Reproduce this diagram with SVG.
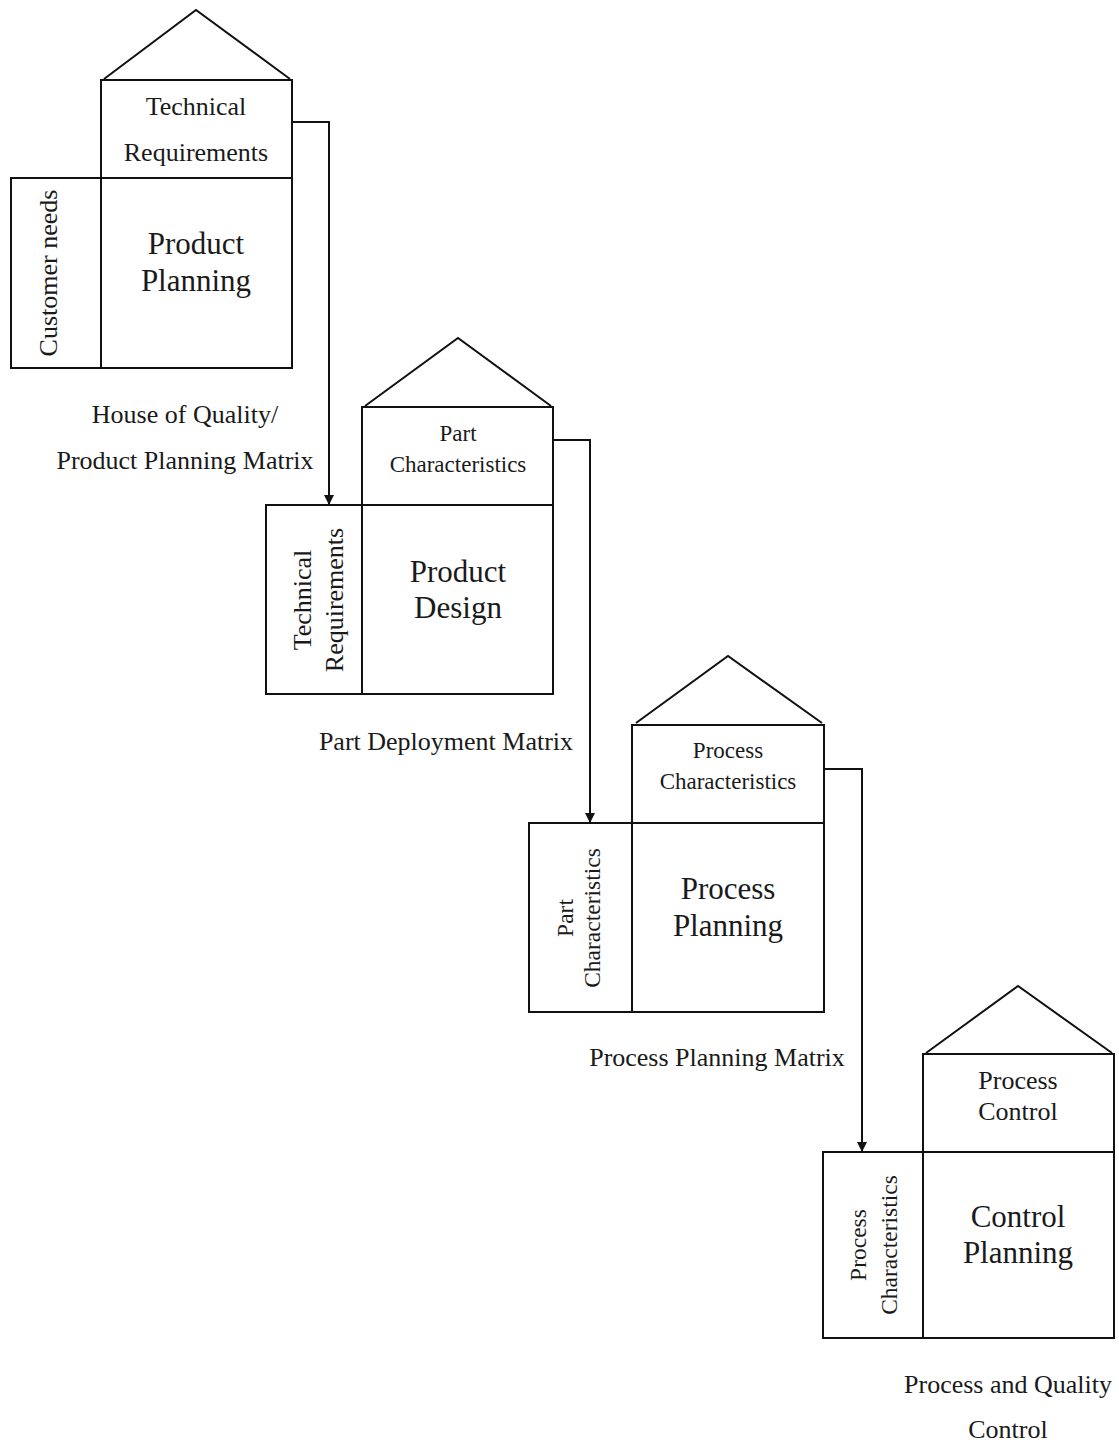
<svg xmlns="http://www.w3.org/2000/svg" width="1119" height="1454" viewBox="0 0 1119 1454">
  <style>
    .box { fill: none; stroke: #111; stroke-width: 2; }
    .roof { fill: none; stroke: #111; stroke-width: 2; stroke-linejoin: miter; }
    .conn { fill: none; stroke: #111; stroke-width: 2; }
    text { font-family: "Liberation Serif", "Times New Roman", serif; fill: #1a1a1a; text-anchor: middle; dominant-baseline: central; }
    .hdr { font-size: 26px; }
    .hdr-s { font-size: 23px; }
    .big { font-size: 31px; }
    .side { font-size: 26px; }
    .side-s { font-size: 23.5px; }
    .cap { font-size: 26px; }
  </style>
  <defs>
    <marker id="arrow" viewBox="0 0 10 10" refX="10" refY="5" markerWidth="6" markerHeight="5" orient="auto" markerUnits="strokeWidth">
      <path d="M0,0 L10,5 L0,10 z" fill="#111"/>
    </marker>
  </defs>

  <rect width="1119" height="1454" fill="#fff"/>

  <!-- connectors between matrices -->
  <g id="connectors">
    <path class="conn" d="M292,122 H329 V505" marker-end="url(#arrow)"/>
    <path class="conn" d="M553,440 H590 V823" marker-end="url(#arrow)"/>
    <path class="conn" d="M824,769 H862 V1152" marker-end="url(#arrow)"/>
  </g>

  <!-- product planning -->
  <g id="house-product-planning">
    <polyline class="roof" points="104,79 196,10 290,79"/>
    <rect class="box" x="101" y="80" width="191" height="98"/>
    <rect class="box" x="11" y="178" width="90" height="190"/>
    <rect class="box" x="101" y="178" width="191" height="190"/>
    <text class="hdr" x="196" y="106">Technical</text>
    <text class="hdr" x="196" y="152">Requirements</text>
    <text class="big" x="196" y="243">Product</text>
    <text class="big" x="196" y="280">Planning</text>
    <text class="side" transform="translate(48,273) rotate(-90)">Customer needs</text>
    <text class="cap" x="185" y="414">House of Quality/</text>
    <text class="cap" x="185" y="460">Product Planning Matrix</text>
  </g>

  <!-- product design -->
  <g id="house-product-design">
    <polyline class="roof" points="365,406 458,338 551,406"/>
    <rect class="box" x="362" y="407" width="191" height="98"/>
    <rect class="box" x="266" y="505" width="96" height="189"/>
    <rect class="box" x="362" y="505" width="191" height="189"/>
    <text class="hdr-s" x="458" y="433">Part</text>
    <text class="hdr-s" x="458" y="464">Characteristics</text>
    <text class="big" x="458" y="571">Product</text>
    <text class="big" x="458" y="607">Design</text>
    <text class="side" transform="translate(302,600) rotate(-90)">Technical</text>
    <text class="side" transform="translate(334,600) rotate(-90)">Requirements</text>
    <text class="cap" x="446" y="741">Part Deployment Matrix</text>
  </g>

  <!-- process planning -->
  <g id="house-process-planning">
    <polyline class="roof" points="636,723 728,656 822,723"/>
    <rect class="box" x="632" y="725" width="192" height="98"/>
    <rect class="box" x="529" y="823" width="103" height="189"/>
    <rect class="box" x="632" y="823" width="192" height="189"/>
    <text class="hdr-s" x="728" y="750">Process</text>
    <text class="hdr-s" x="728" y="781">Characteristics</text>
    <text class="big" x="728" y="888">Process</text>
    <text class="big" x="728" y="925">Planning</text>
    <text class="side-s" transform="translate(565,918) rotate(-90)">Part</text>
    <text class="side-s" transform="translate(592,918) rotate(-90)">Characteristics</text>
    <text class="cap" x="717" y="1057">Process Planning Matrix</text>
  </g>

  <!-- control planning -->
  <g id="house-control-planning">
    <polyline class="roof" points="926,1053 1018,986 1112,1053"/>
    <rect class="box" x="923" y="1054" width="191" height="98"/>
    <rect class="box" x="823" y="1152" width="100" height="186"/>
    <rect class="box" x="923" y="1152" width="191" height="186"/>
    <text class="hdr" x="1018" y="1080">Process</text>
    <text class="hdr" x="1018" y="1111">Control</text>
    <text class="big" x="1018" y="1216">Control</text>
    <text class="big" x="1018" y="1252">Planning</text>
    <text class="side-s" transform="translate(858,1245) rotate(-90)">Process</text>
    <text class="side-s" transform="translate(889,1245) rotate(-90)">Characteristics</text>
    <text class="cap" x="1008" y="1384">Process and Quality</text>
    <text class="cap" x="1008" y="1429">Control</text>
  </g>
</svg>
